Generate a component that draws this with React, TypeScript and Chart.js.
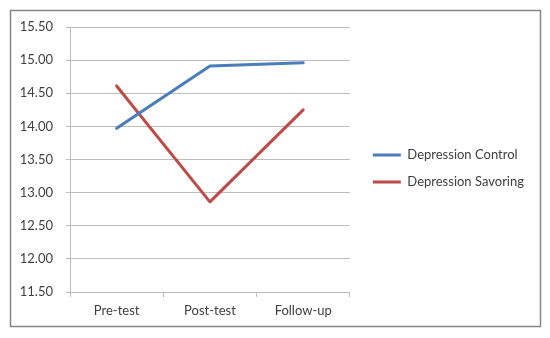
import { useEffect, useRef } from 'react';
import { Chart, registerables } from 'chart.js';

Chart.register(...registerables);

const categories = ['Pre-test', 'Post-test', 'Follow-up'];
const controlValues = [13.97, 14.91, 14.96];
const savoringValues = [14.61, 12.86, 14.25];
const seriesNames = ['Depression Control', 'Depression Savoring'];
const seriesColors = ['#4a7ebb', '#be4b48'];
const yMin = 11.5;
const yMax = 15.5;
const yStep = 0.5;

const FONT = 'Lato, "Open Sans", sans-serif';
const TEXT = '#404040';
const GRID = '#bdbdbd';

export default function App() {
  const ref = useRef<HTMLCanvasElement>(null);

  useEffect(() => {
    if (!ref.current) return;
    const frame = {
      id: 'frame',
      beforeDraw(chart: any) {
        const ctx = chart.ctx;
        ctx.save();
        ctx.strokeStyle = '#868686';
        ctx.lineWidth = 1.5;
        ctx.strokeRect(10.5, 10.5, 530, 316);
        ctx.restore();
      },
    };
    const chart = new Chart(ref.current, {
      type: 'line',
      data: {
        labels: categories,
        datasets: [
          {
            label: seriesNames[0],
            data: controlValues,
            borderColor: seriesColors[0],
            backgroundColor: seriesColors[0],
            borderWidth: 3,
            pointRadius: 0,
            borderJoinStyle: 'round',
            borderCapStyle: 'round',
            tension: 0,
          },
          {
            label: seriesNames[1],
            data: savoringValues,
            borderColor: seriesColors[1],
            backgroundColor: seriesColors[1],
            borderWidth: 3,
            pointRadius: 0,
            borderJoinStyle: 'round',
            borderCapStyle: 'round',
            tension: 0,
          },
        ],
      },
      options: {
        animation: false,
        responsive: false,
        events: [],
        layout: { padding: { top: 27, left: 0, right: 16, bottom: 0 } },
        plugins: {
          legend: {
            position: 'right',
            fullSize: false,
            maxWidth: 300,
            title: { display: true, text: ' ', font: { size: 10, lineHeight: 1.2 }, padding: 3 },
            labels: {
              boxWidth: 28,
              boxHeight: 3,
              padding: 14,
              color: TEXT,
              font: { family: FONT, size: 13 },
              generateLabels: (c: any) =>
                Chart.defaults.plugins.legend.labels
                  .generateLabels(c)
                  .map((l: any) => ({ ...l, fillStyle: l.strokeStyle, lineWidth: 0 })),
            },
          },
          tooltip: { enabled: false },
        },
        scales: {
          x: {
            offset: true,
            afterFit: (s: any) => {
              s.height = 46;
            },
            grid: {
              display: true,
              drawOnChartArea: false,
              drawTicks: true,
              tickLength: 5,
              color: GRID,
              offset: true,
            },
            border: { display: true, color: GRID },
            ticks: { color: TEXT, font: { family: FONT, size: 13 }, padding: 6, maxRotation: 0 },
          },
          y: {
            min: yMin,
            max: yMax,
            afterFit: (s: any) => {
              s.width = 70;
            },
            grid: { color: GRID, tickLength: 4, drawTicks: true },
            border: { display: true, color: GRID },
            ticks: {
              stepSize: yStep,
              color: TEXT,
              padding: 13,
              font: { family: FONT, size: 13 },
              callback: (v: any) => Number(v).toFixed(2),
            },
          },
          gap: {
            type: 'linear',
            position: 'right',
            display: true,
            afterFit: (s: any) => {
              s.width = 9;
            },
            grid: { display: false, drawTicks: false },
            border: { display: false },
            ticks: { display: false },
          },
        },
      },
      plugins: [frame],
    } as any);
    return () => chart.destroy();
  }, []);

  return (
    <div style={{ position: 'fixed', left: 0, top: 0, width: 550, height: 338, background: '#fff' }}>
      <canvas ref={ref} width={550} height={338} />
    </div>
  );
}
